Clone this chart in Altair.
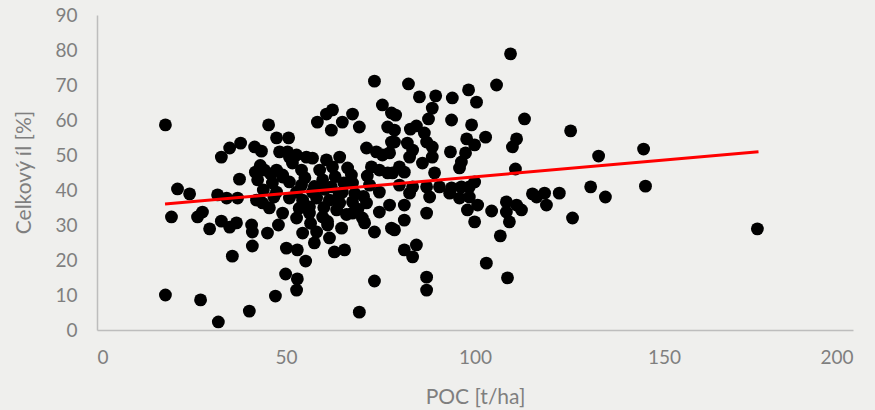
import altair as alt
import pandas as pd

# POC [t/ha] values
poc = [
    18.1, 18.1, 19.7, 21.3, 24.5, 27.4, 26.6, 27.9, 29.8, 32.1, 31.9, 34.3, 37.2, 32.9, 35.1, 38.0, 32.9, 35.1, 36.9, 35.8,
    40.9, 41.1, 41.1, 40.3, 37.7, 41.7, 43.5, 41.9, 44.3, 42.5, 45.4, 47.5, 50.7, 48.3, 50.9, 51.7, 46.4, 49.1, 50.9, 45.1,
    48.0, 42.2, 43.8, 45.6, 50.1, 53.0, 49.9, 53.0, 52.8, 47.2,
    73.4, 75.5, 77.9, 62.3, 60.7, 58.3, 67.6, 64.9, 69.4, 62.0, 76.9, 77.9, 71.3, 73.9, 75.5, 50.4, 52.8, 55.4, 57.0, 60.7,
    64.2, 47.5, 54.1, 58.9, 62.3, 66.3, 67.3, 72.6, 74.7, 76.9, 54.1, 59.7, 62.0, 67.6, 72.1, 52.8, 57.0, 64.9, 74.7, 50.9,
    54.4, 58.1, 61.5, 64.2, 67.6, 71.3, 77.4, 49.1, 52.8, 56.2, 59.7, 63.4, 67.6, 70.2, 74.7, 54.4, 58.1, 61.0, 64.7, 70.8,
    73.4, 77.9, 57.5, 61.5, 62.8, 65.5, 55.2, 73.4, 69.4, 49.1, 47.5,
    55.0, 57.5, 60.2, 63.0, 65.3, 68.2, 70.5, 56.2, 60.0, 66.0, 44.0, 46.8, 46.0, 43.2, 53.5, 56.5, 61.0, 64.0, 69.0, 71.5,
    109.4, 82.4, 105.7, 98.3, 85.3, 89.6, 94.0, 100.4, 88.7, 79.0, 113.1, 87.7, 93.8, 99.1, 84.5, 82.9, 78.7, 86.6, 102.8, 97.8,
    99.9, 111.0, 109.9, 78.7, 82.1, 83.5, 87.2, 88.7, 93.5, 97.5, 96.4, 95.9, 77.4, 82.7, 88.7, 86.1, 80.0, 81.3, 78.2, 89.3,
    110.7, 99.9, 98.5, 96.4, 80.0, 83.5, 87.2, 90.6, 93.8, 115.2, 81.3, 87.2, 81.3, 78.7, 82.7, 88.0, 93.3, 95.9, 98.5, 100.7,
    98.0, 99.9, 104.4, 108.3, 111.0, 112.3, 108.3, 109.1, 106.7, 81.3, 84.5, 83.5, 103.0, 87.2, 87.2, 108.6,
    125.3, 122.3, 116.3, 118.4, 118.9, 125.8, 132.7, 144.6, 130.6, 134.5, 145.1, 174.7,
]

# Celkový íl [%] values
il = [
    58.6, 10.0, 32.3, 40.3, 38.9, 8.6, 32.3, 33.7, 28.9, 2.3, 38.6, 37.7, 37.7, 49.4, 52.0, 53.4, 31.1, 29.4, 30.6, 21.1,
    30.0, 28.0, 24.0, 5.4, 43.1, 52.3, 51.1, 45.1, 45.7, 42.9, 58.6, 54.9, 54.9, 50.9, 49.4, 47.7, 42.0, 43.7, 42.3, 27.7,
    30.0, 37.1, 36.3, 34.9, 23.4, 22.9, 16.0, 14.6, 11.4, 9.7,
    71.1, 64.3, 62.0, 62.9, 61.7, 59.4, 61.7, 59.4, 58.0, 57.1, 58.0, 53.7, 52.0, 50.9, 50.0, 50.9, 50.0, 49.4, 49.1, 48.6,
    49.4, 45.7, 45.7, 45.7, 46.6, 46.3, 44.3, 46.6, 45.7, 44.9, 41.4, 42.9, 40.9, 42.0, 41.4, 39.4, 39.4, 39.4, 39.4, 37.7,
    37.1, 37.7, 37.1, 36.3, 36.6, 36.3, 35.7, 33.4, 32.0, 33.4, 32.3, 34.3, 33.4, 32.0, 33.7, 27.7, 28.0, 30.0, 29.1, 30.6,
    28.0, 29.1, 24.9, 26.3, 22.3, 22.9, 19.7, 14.0, 5.1, 44.3, 39.4,
    43.5, 41.0, 40.2, 43.8, 42.0, 39.0, 38.2, 35.2, 35.0, 33.0, 40.0, 38.0, 44.5, 47.0, 34.8, 30.5, 31.0, 38.5, 34.5, 44.0,
    78.9, 70.3, 70.0, 68.6, 66.6, 66.9, 66.3, 65.1, 63.4, 61.4, 60.3, 60.3, 60.0, 58.6, 58.3, 57.4, 57.1, 56.3, 55.1, 54.6,
    52.9, 54.6, 52.3, 53.7, 53.4, 51.4, 53.7, 52.3, 50.9, 50.6, 48.0, 46.3, 50.6, 49.4, 49.4, 47.7, 46.6, 45.1, 44.9, 44.9,
    46.0, 42.3, 40.9, 40.9, 41.4, 40.9, 40.9, 40.9, 40.6, 38.9, 35.7, 33.4, 31.4, 28.6, 39.1, 38.0, 39.1, 37.7, 38.0, 35.7,
    34.3, 30.9, 34.0, 36.6, 35.7, 34.3, 33.7, 30.9, 26.9, 22.9, 24.3, 20.9, 19.1, 15.1, 11.4, 14.9,
    56.9, 39.1, 38.0, 39.1, 35.7, 32.0, 49.7, 51.7, 40.9, 38.0, 41.1, 28.9,
]

# Linear trend line end points
trend_x = [18.0, 175.0]
trend_y = [36.0, 50.9]

x_ticks = [0, 50, 100, 150, 200]
y_ticks = [0, 10, 20, 30, 40, 50, 60, 70, 80, 90]

pts = pd.DataFrame({"POC": poc, "il": il})
trend = pd.DataFrame({"POC": trend_x, "il": trend_y})

FONT = "Lato"
GRAY = "#7f7f7f"

x_scale = alt.Scale(domain=[0, 200], nice=False, zero=False)
y_scale = alt.Scale(domain=[0, 90], nice=False, zero=False)

x_axis = alt.Axis(
    title="POC [t/ha]", values=x_ticks, grid=False, ticks=False,
    domainColor="#bdbdbd", domainWidth=1.5, labelOverlap=False,
    labelFont=FONT, labelFontSize=19, labelColor=GRAY, labelPadding=18,
    titleFont=FONT, titleFontSize=21, titleColor=GRAY, titleFontWeight="normal",
    titleX=378, titleY=67, titleBaseline="middle", titleAlign="center",
)
y_axis = alt.Axis(
    title="Celkový íl [%]", values=y_ticks, grid=False, ticks=False,
    domainColor="#bdbdbd", domainWidth=1.5, labelOverlap=False,
    labelFont=FONT, labelFontSize=19, labelColor=GRAY, labelPadding=20,
    titleFont=FONT, titleFontSize=21, titleColor=GRAY, titleFontWeight="normal",
    titleX=-73, titleY=157, titleAngle=-90, titleBaseline="middle", titleAlign="center",
)

points = alt.Chart(pts).mark_circle(size=165, color="black", opacity=1).encode(
    x=alt.X("POC:Q", scale=x_scale, axis=x_axis),
    y=alt.Y("il:Q", scale=y_scale, axis=y_axis),
)

line = alt.Chart(trend).mark_line(color="#ff0000", strokeWidth=3).encode(
    x=alt.X("POC:Q", scale=x_scale, axis=x_axis),
    y=alt.Y("il:Q", scale=y_scale, axis=y_axis),
)

chart = alt.layer(points, line).properties(
    width=756,
    height=315,
    background="#efefed",
    padding={"left": 97, "top": 15, "right": 22, "bottom": 80},
    autosize=alt.AutoSizeParams(type="none"),
).configure_view(stroke=None).configure_axis(labelOverlap=False)

chart.save("out.html", embed_options={"renderer": "svg", "actions": False})
